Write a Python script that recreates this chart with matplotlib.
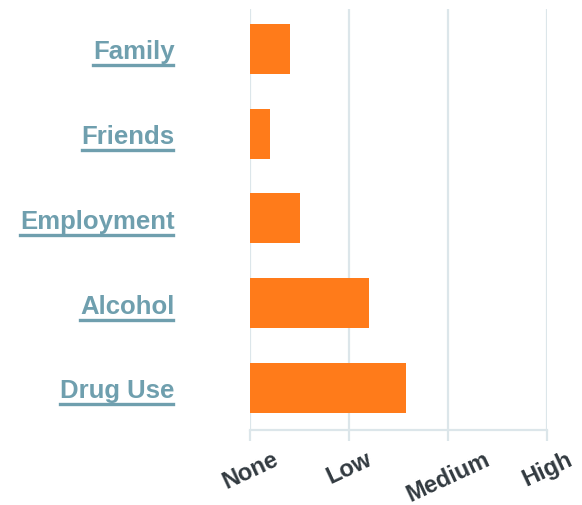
import matplotlib
matplotlib.use("Agg")
import matplotlib.pyplot as plt
from matplotlib.lines import Line2D

categories = ["Family", "Friends", "Employment", "Alcohol", "Drug Use"]
scores = [0.40, 0.20, 0.50, 1.20, 1.58]
levels = ["None", "Low", "Medium", "High"]

bar_color = "#ff7b1a"
grid_color = "#dce6ea"
label_color = "#6f9fae"
font = "Liberation Sans"

fig = plt.figure(figsize=(5.82, 5.06), dpi=100)
ax = fig.add_axes([0.4296, 0.148, 0.5103, 0.832])

ypos = list(range(len(categories)))
ax.barh(ypos, scores, height=0.59, color=bar_color, zorder=3)

ax.set_xlim(0, 3)
ax.set_ylim(4.5, -0.47)
ax.set_xticks(range(len(levels)))
ax.set_xticklabels(levels, rotation=25, ha="center", va="top", family=font,
                   fontsize=17, fontweight="bold", color="#323a40")
ax.tick_params(axis="x", length=8, width=1.6, color=grid_color, pad=4)
ax.set_yticks([])

ax.grid(axis="x", color=grid_color, linewidth=1.6, zorder=0)
for side in ["top", "right", "left"]:
    ax.spines[side].set_visible(False)
ax.spines["bottom"].set_color(grid_color)
ax.spines["bottom"].set_linewidth(1.6)

# category names with underlines, right-aligned left of the axes
labels = []
for y, name in zip(ypos, categories):
    t = ax.text(-0.76, y + 0.03, name, ha="right", va="center", family=font,
                fontsize=18.5, fontweight="bold", color=label_color,
                clip_on=False)
    labels.append(t)

fig.canvas.draw()
renderer = fig.canvas.get_renderer()
inv = fig.transFigure.inverted()
for t in labels:
    bb = t.get_window_extent(renderer)
    (x0, y0), (x1, y1) = inv.transform([(bb.x0, bb.y0 - 2), (bb.x1 - 2, bb.y0 - 2)])
    fig.add_artist(Line2D([x0, x1], [y0, y1], color=label_color, linewidth=2.4))

fig.savefig("out.png", dpi=100)
